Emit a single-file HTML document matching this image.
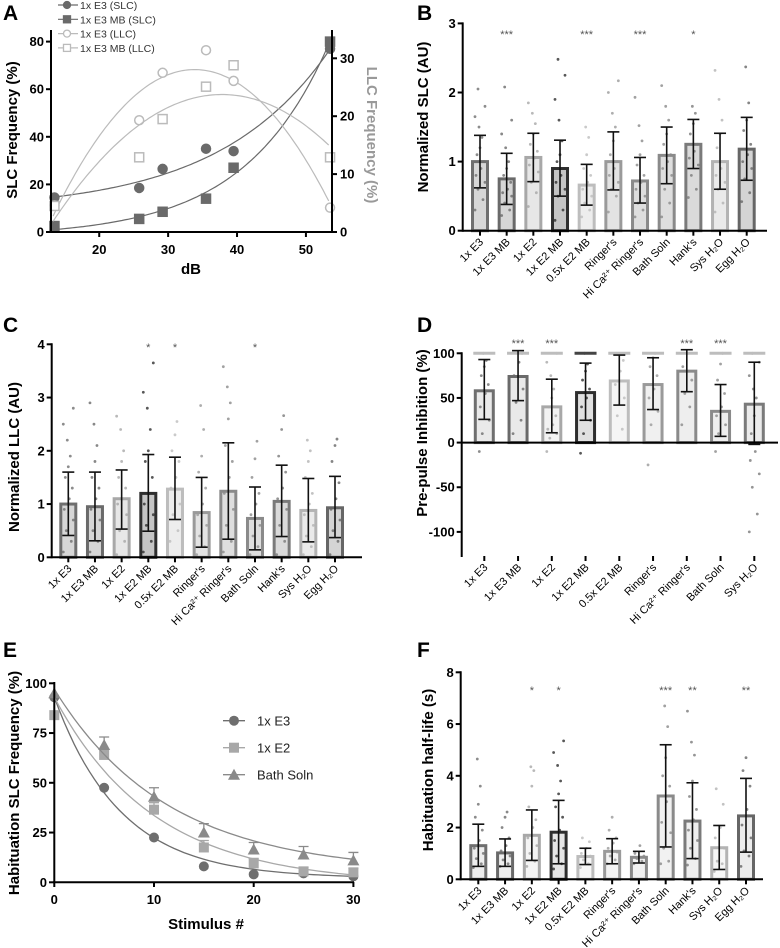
<!DOCTYPE html>
<html><head><meta charset="utf-8"><style>
html,body{margin:0;padding:0;background:#fff;}
svg{display:block;font-family:"Liberation Sans",Arial,sans-serif;}
</style></head><body>
<svg id="fig" width="780" height="948" viewBox="0 0 780 948" xmlns="http://www.w3.org/2000/svg"></svg>
<script>
// ---------- Panel A data ----------
const aDb = [13.5, 25.8, 29.2, 35.5, 39.5, 53.5];
const aSlcE3 = [14.5, 18.5, 26.5, 35, 34, 77];
const aSlcE3MB = [2.5, 5.5, 8.5, 14, 27, 80];
const aLlcE3 = [4.6, 19.3, 27.5, 31.4, 26.1, 4.2];
const aLlcE3MB = [4.5, 12.9, 19.5, 25.1, 28.8, 12.9];
const aLeftTicks = [0, 20, 40, 60, 80];
const aRightTicks = [0, 10, 20, 30];
const aXTicks = [20, 30, 40, 50];
const aLegend = ["1x E3 (SLC)", "1x E3 MB (SLC)", "1x E3 (LLC)", "1x E3 MB (LLC)"];

// ---------- Categories ----------
const cats11 = ["1x E3","1x E3 MB","1x E2","1x E2 MB","0.5x E2 MB","Ringer's","Hi Ca²⁺ Ringer's","Bath Soln","Hank's","Sys H₂O","Egg H₂O"];
const cats9 = ["1x E3","1x E3 MB","1x E2","1x E2 MB","0.5x E2 MB","Ringer's","Hi Ca²⁺ Ringer's","Bath Soln","Sys H₂O"];

// ---------- Panel B ----------
const bMeans = [1.0, 0.75, 1.06, 0.9, 0.66, 1.0, 0.72, 1.09, 1.25, 1.0, 1.18];
const bErrHi = [1.38, 1.12, 1.41, 1.31, 0.96, 1.43, 1.06, 1.5, 1.61, 1.41, 1.64];
const bErrLo = [0.62, 0.38, 0.71, 0.5, 0.37, 0.59, 0.4, 0.68, 0.9, 0.6, 0.73];
const bStars = ["", "***", "", "", "***", "", "***", "", "*", "", ""];
const bTicks = [0, 1, 2, 3];
const bDots = [
 [0.3,0.45,0.6,0.7,0.8,0.9,1.0,1.1,1.2,1.35,1.5,1.65,1.8,2.05],
 [0.22,0.3,0.4,0.5,0.55,0.6,0.7,0.8,0.9,1.0,1.2,1.4,1.6,2.08],
 [0.35,0.55,0.7,0.85,0.95,1.05,1.15,1.25,1.4,1.55,1.7,1.85],
 [0.15,0.3,0.5,0.6,0.7,0.8,0.9,1.0,1.1,1.3,1.6,1.9,2.25,2.48],
 [0.2,0.3,0.4,0.5,0.6,0.7,0.8,0.9,1.1,1.35,1.5],
 [0.27,0.5,0.6,0.7,0.8,0.9,1.0,1.1,1.3,1.5,1.7,2.0,2.17],
 [0.2,0.3,0.4,0.5,0.6,0.7,0.8,0.95,1.1,1.3,1.52,1.93],
 [0.2,0.4,0.6,0.8,0.9,1.0,1.1,1.25,1.4,1.6,1.8,2.1],
 [0.48,0.6,0.8,0.95,1.05,1.15,1.25,1.4,1.55,1.7,1.8],
 [0.27,0.4,0.6,0.7,0.8,0.9,1.0,1.2,1.4,1.6,1.9,2.32],
 [0.42,0.55,0.75,0.9,1.0,1.1,1.25,1.45,1.6,1.85,2.37]];

// ---------- Panel C ----------
const cMeans = [1.0, 0.95, 1.1, 1.2, 1.28, 0.84, 1.24, 0.73, 1.05, 0.88, 0.93];
const cErrHi = [1.6, 1.6, 1.64, 1.93, 1.88, 1.5, 2.15, 1.32, 1.73, 1.48, 1.52];
const cErrLo = [0.41, 0.31, 0.53, 0.49, 0.71, 0.19, 0.34, 0.14, 0.39, 0.29, 0.37];
const cStars = ["", "", "", "*", "*", "", "", "*", "", "", ""];
const cTicks = [0, 1, 2, 3, 4];
const cDots = [
 [0.1,0.3,0.5,0.7,0.9,1.1,1.3,1.5,1.7,1.9,2.2,2.5,2.8],
 [0.1,0.3,0.5,0.7,0.9,1.1,1.3,1.5,1.8,2.1,2.5,2.9],
 [0.05,0.3,0.5,0.8,1.0,1.1,1.3,1.5,1.8,2.0,2.4,2.65],
 [0.1,0.3,0.6,0.8,1.0,1.2,1.5,1.8,2.0,2.4,2.8,3.1,3.65],
 [0.3,0.5,0.8,1.0,1.3,1.5,1.8,2.0,2.3,2.55],
 [0.05,0.2,0.4,0.6,0.8,1.0,1.3,1.6,1.9,2.4,2.85],
 [0.1,0.3,0.6,0.9,1.2,1.5,1.8,2.1,2.6,2.9,3.2,3.58],
 [0.05,0.2,0.4,0.6,0.8,1.0,1.2,1.5,1.85,2.18],
 [0.05,0.3,0.6,0.9,1.1,1.3,1.6,1.9,2.4,2.66],
 [0.05,0.2,0.4,0.6,0.8,1.0,1.2,1.5,1.8,2.0,2.2],
 [0.05,0.3,0.5,0.7,0.9,1.1,1.4,1.8,2.1,2.22]];

// ---------- Panel D ----------
const dMeans = [58, 74, 40, 56, 69, 65, 80, 35, 43];
const dErrHi = [93, 103, 71, 89, 98, 95, 104, 65, 90];
const dErrLo = [26, 47, 11, 25, 42, 37, 57, 7, -2];
const dStars = ["", "***", "***", "", "", "", "***", "***", ""];
const dTicks = [-100, -50, 0, 50, 100];
const dDots = [
 [-10,0,10,25,40,55,65,75,85,92,100],
 [10,25,45,60,75,90,100],
 [-10,0,5,10,15,20,30,40,50,60,75,90,100],
 [-12,0,10,25,40,50,60,70,80,88,100],
 [0,15,30,50,65,80,92,100],
 [-25,0,20,35,50,60,75,85,95,100],
 [20,40,55,70,85,100],
 [-10,0,10,20,30,40,55,70,88,100],
 [-100,-80,-50,-35,-20,-10,0,10,30,50,60,75,90,100]];

// ---------- Panel E ----------
const eStim = [0, 5, 10, 15, 20, 25, 30];
const eE3 = [93, 47.5, 22.5, 8, 4, 4.5, 3];
const eE2 = [84, 64, 36.5, 17.5, 9.5, 5.5, 5];
const eBath = [95, 69, 43, 25, 16.5, 14, 11];
const eE2Err = [0, 3, 3.5, 3.5, 2.5, 2, 2];
const eBathErr = [0, 4, 4.5, 4.5, 3.5, 4, 4];
const eFitY0 = [93, 93, 97];
const eFitK = [0.15, 0.1, 0.088];
const eFitPlateau = [2, -1, 5];
const eYTicks = [0, 25, 50, 75, 100];
const eXTicks = [0, 10, 20, 30];
const eLegend = ["1x E3", "1x E2", "Bath Soln"];

// ---------- Panel F ----------
const fMeans = [1.3, 1.02, 1.7, 1.82, 0.88, 1.08, 0.85, 3.22, 2.25, 1.22, 2.45];
const fErrHi = [2.13, 1.56, 2.68, 3.05, 1.2, 1.57, 1.08, 5.2, 3.73, 2.08, 3.9];
const fErrLo = [0.5, 0.5, 0.73, 0.6, 0.57, 0.6, 0.63, 1.25, 0.8, 0.38, 1.05];
const fStars = ["", "", "*", "*", "", "", "", "***", "**", "", "**"];
const fTicks = [0, 2, 4, 6, 8];
const fDots = [
 [0.45,0.6,0.8,1.0,1.2,1.5,1.9,2.4,2.9,3.6,4.65],
 [0.5,0.6,0.75,0.9,1.1,1.3,1.6,2.0,2.4,2.6],
 [0.5,0.7,1.0,1.3,1.6,2.0,2.3,2.8,3.6,4.2,4.35],
 [0.4,0.6,0.9,1.2,1.5,1.9,2.4,2.8,3.3,3.8,4.4,4.9,5.35],
 [0.45,0.6,0.75,0.9,1.0,1.2,1.45,1.6],
 [0.6,0.75,0.9,1.05,1.2,1.4,1.6,1.9,2.4],
 [0.6,0.7,0.8,0.9,1.0,1.3],
 [0.6,0.7,1.2,1.8,2.2,3.0,3.6,4.0,4.7,5.9,6.7],
 [0.55,0.8,1.2,1.5,1.9,2.3,2.7,3.2,3.8,4.8,5.3,6.5],
 [0.3,0.6,0.7,1.2,1.6,2.0,2.9,3.5],
 [0.5,0.9,1.1,1.6,2.1,2.7,3.6,4.2,4.7]];

// ---------- styles ----------
const barColors = ['#6f6f6f','#6a6a6a','#a8a8a8','#2e2e2e','#bdbdbd','#9a9a9a','#8a8a8a','#8a8a8a','#7a7a7a','#b3b3b3','#666666'];
const jitter = [-5,3,-2,5,-4,1,4,-3,0,2,-1,-5,5,-2];

const NS = 'http://www.w3.org/2000/svg';
const svg = document.getElementById('fig');
function el(tag, attrs, parent, text) {
  const e = document.createElementNS(NS, tag);
  for (const k in attrs) e.setAttribute(k, attrs[k]);
  if (text !== undefined) e.textContent = text;
  (parent || svg).appendChild(e);
  return e;
}
function group(name) {
  const g = el('g', {});
  
  
  return g;
}
function label(g, x, y, txt, name, opts) {
  const t = el('text', Object.assign({x: x, y: y, 'font-size': 12, 'font-weight': 'bold', fill: '#000'}, opts || {}), g, txt);
  
  
  return t;
}
function panelLetter(x, y, ch) {
  const t = el('text', {x: x, y: y, 'font-size': 21, 'font-weight': 'bold', fill: '#000'}, svg, ch);
  
  
}

// ---------- generic bar panel ----------
function barPanel(cfg) {
  const g = group(cfg.name);
  const y = v => cfg.y0 - (v - cfg.vmin) * cfg.pxPerUnit;
  const zeroY = y(0);
  const x = i => cfg.x0 + i * cfg.step;
  // bar fill (density texture)
  cfg.means.forEach((m, i) => {
    const top = Math.min(y(m), zeroY), h = Math.abs(zeroY - y(m));
    const r = el('rect', {x: x(i) - cfg.bw / 2, y: top, width: cfg.bw, height: h, fill: barColors[i], opacity: cfg.fillOp}, g);
    
    
  });
  // dots
  cfg.dots.forEach((arr, i) => {
    arr.forEach((v, j) => {
      const c = el('circle', {cx: x(i) + jitter[j % jitter.length], cy: y(v), r: 1.4, fill: barColors[i], opacity: 0.8}, g);
      
      
    });
  });
  // bars
  cfg.means.forEach((m, i) => {
    const top = Math.min(y(m), zeroY), h = Math.abs(zeroY - y(m));
    const r = el('rect', {x: x(i) - cfg.bw / 2, y: top, width: cfg.bw, height: h, fill: 'none', stroke: barColors[i], 'stroke-width': 3}, g);
    
    
  });
  if (cfg.hundredLine) {
    cfg.means.forEach((m, i) => {
      const l = el('line', {x1: x(i) - 11, x2: x(i) + 11, y1: y(100), y2: y(100), stroke: i === 3 ? '#444' : '#bdbdbd', 'stroke-width': 3}, g);
      
      
    });
  }
  // error bars
  cfg.means.forEach((m, i) => {
    const eg = el('g', {stroke: '#111', 'stroke-width': 1.6}, g);
    
    
    el('line', {x1: x(i), x2: x(i), y1: y(cfg.hi[i]), y2: y(cfg.lo[i])}, eg);
    el('line', {x1: x(i) - 6, x2: x(i) + 6, y1: y(cfg.hi[i]), y2: y(cfg.hi[i])}, eg);
    el('line', {x1: x(i) - 6, x2: x(i) + 6, y1: y(cfg.lo[i]), y2: y(cfg.lo[i])}, eg);
  });
  // stars
  cfg.stars.forEach((s, i) => {
    if (s) label(g, x(i), cfg.starY, s, 'significance-marker', {'text-anchor': 'middle', 'font-size': 11, 'font-weight': 'normal', fill: '#555'});
  });
  // axes
  const ax = el('g', {stroke: '#000', 'stroke-width': 2}, g);
  
  
  const yTopV = cfg.ticks[cfg.ticks.length - 1];
  el('line', {x1: cfg.axX, x2: cfg.axX, y1: y(yTopV) - 1, y2: cfg.y0 + 1}, ax);
  el('line', {x1: cfg.axX, x2: cfg.xEnd, y1: zeroY, y2: zeroY}, ax);
  if (cfg.bottomAxis) el('line', {x1: cfg.axX, x2: cfg.xEnd, y1: cfg.y0, y2: cfg.y0}, ax);
  cfg.ticks.forEach(t => {
    el('line', {x1: cfg.axX - 5, x2: cfg.axX, y1: y(t), y2: y(t)}, ax);
    label(g, cfg.axX - 7, y(t) + 4.5, String(t), 'y-tick-label', {'text-anchor': 'end', 'font-size': 13});
  });
  const baseY = cfg.y0;
  cfg.cats.forEach((c, i) => {
    el('line', {x1: x(i), x2: x(i), y1: baseY, y2: baseY + 5}, ax);
    label(g, 0, 0, c, 'x-tick-label', {'text-anchor': 'end', 'font-size': 11, 'font-weight': 'normal',
      transform: 'translate(' + (x(i) + 4) + ',' + (baseY + 12) + ') rotate(-45)'});
  });
  label(g, 0, 0, cfg.ylabel, 'y-axis-title', {'text-anchor': 'middle', 'font-size': 15,
    transform: 'translate(' + cfg.ylX + ',' + cfg.ylY + ') rotate(-90)'});
}

// ---------- Panel A ----------
function polyfit(xs, ys, deg) {
  const n = deg + 1, A = [], b = [];
  for (let r = 0; r < n; r++) { A.push(new Array(n).fill(0)); b.push(0); }
  xs.forEach((xv, k) => {
    for (let r = 0; r < n; r++) {
      for (let c = 0; c < n; c++) A[r][c] += Math.pow(xv, r + c);
      b[r] += ys[k] * Math.pow(xv, r);
    }
  });
  for (let i = 0; i < n; i++) {
    let p = i; for (let r = i + 1; r < n; r++) if (Math.abs(A[r][i]) > Math.abs(A[p][i])) p = r;
    [A[i], A[p]] = [A[p], A[i]]; [b[i], b[p]] = [b[p], b[i]];
    for (let r = i + 1; r < n; r++) { const f = A[r][i] / A[i][i]; for (let c = i; c < n; c++) A[r][c] -= f * A[i][c]; b[r] -= f * b[i]; }
  }
  const co = new Array(n).fill(0);
  for (let i = n - 1; i >= 0; i--) { let s = b[i]; for (let c = i + 1; c < n; c++) s -= A[i][c] * co[c]; co[i] = s / A[i][i]; }
  return v => co.reduce((s, c, i) => s + c * Math.pow(v, i), 0);
}
// exponential growth fit y = a + b*exp(k x), grid search on k
function expfit(xs, ys) {
  let best = null;
  for (let k = 0.01; k <= 0.4; k += 0.002) {
    const e = xs.map(v => Math.exp(k * (v - 53.5)));
    const n = xs.length;
    const se = e.reduce((s, v) => s + v, 0), sy = ys.reduce((s, v) => s + v, 0);
    const see = e.reduce((s, v) => s + v * v, 0), sey = e.reduce((s, v, i) => s + v * ys[i], 0);
    const det = n * see - se * se;
    const bb = (n * sey - se * sy) / det, aa = (sy - bb * se) / n;
    const err = ys.reduce((s, v, i) => s + Math.pow(v - aa - bb * e[i], 2), 0);
    if (!best || err < best.err) best = {err: err, a: aa, b: bb, k: k};
  }
  return v => best.a + best.b * Math.exp(best.k * (v - 53.5));
}
(function () {
  const g = group('panel-a-dose-response');
  const X = v => 51 + (v - 13) * 6.89;
  const YL = v => 232 - v * 2.38;
  const YR = v => 232 - v * 5.79;
  const series = [
    {d: aSlcE3, s: YL, col: '#6a6a6a', m: 'circle', fill: true, exp: true},
    {d: aSlcE3MB, s: YL, col: '#6a6a6a', m: 'square', fill: true, exp: true},
    {d: aLlcE3, s: YR, col: '#bbbbbb', m: 'circle', fill: false, deg: 2},
    {d: aLlcE3MB, s: YR, col: '#bbbbbb', m: 'square', fill: false, deg: 2}];
  series.forEach((se, si) => {
    const f = se.exp ? expfit(aDb, se.d) : polyfit(aDb, se.d, se.deg);
    let p = '';
    for (let v = 13.3; v <= 53.6; v += 0.4) p += (p ? 'L' : 'M') + X(v).toFixed(1) + ',' + se.s(Math.max(0, f(v))).toFixed(1);
    const path = el('path', {d: p, fill: 'none', stroke: se.col, 'stroke-width': 1.2}, g);
    
    
    se.d.forEach((v, i) => {
      const cx = X(aDb[i]), cy = se.s(v);
      let mk;
      if (se.m === 'circle') mk = el('circle', {cx: cx, cy: cy, r: 4.5, fill: se.fill ? se.col : '#fff', stroke: se.col, 'stroke-width': 1.5}, g);
      else mk = el('rect', {x: cx - 4.5, y: cy - 4.5, width: 9, height: 9, fill: se.fill ? se.col : '#fff', stroke: se.col, 'stroke-width': 1.5}, g);
      
      
    });
  });
  aLegend.forEach((txt, i) => {
    const se = series[i], ly = 5 + i * 14.3;
    const lg = el('g', {}, g);
    
    
    el('line', {x1: 58, x2: 78, y1: ly, y2: ly, stroke: se.col, 'stroke-width': 1.2}, lg);
    if (se.m === 'circle') el('circle', {cx: 67, cy: ly, r: 3.5, fill: se.fill ? se.col : '#fff', stroke: se.col, 'stroke-width': 1.3}, lg);
    else el('rect', {x: 63.5, y: ly - 3.5, width: 7, height: 7, fill: se.fill ? se.col : '#fff', stroke: se.col, 'stroke-width': 1.3}, lg);
    el('text', {x: 80, y: ly + 4, 'font-size': 10.5, fill: '#333'}, lg, txt);
  });
  const ax = el('g', {stroke: '#000', 'stroke-width': 2}, g);
  
  
  el('line', {x1: 51, x2: 51, y1: 30, y2: 233}, ax);
  el('line', {x1: 332, x2: 332, y1: 30, y2: 233}, ax);
  el('line', {x1: 50, x2: 333, y1: 232, y2: 232}, ax);
  aLeftTicks.forEach(t => { el('line', {x1: 46, x2: 51, y1: YL(t), y2: YL(t)}, ax); label(g, 44, YL(t) + 4.5, String(t), 'y-tick-label', {'text-anchor': 'end', 'font-size': 13}); });
  aRightTicks.forEach(t => { el('line', {x1: 332, x2: 337, y1: YR(t), y2: YR(t)}, ax); label(g, 340, YR(t) + 4.5, String(t), 'right-y-tick-label', {'font-size': 13}); });
  aXTicks.forEach(t => { el('line', {x1: X(t), x2: X(t), y1: 232, y2: 237}, ax); label(g, X(t), 254, String(t), 'x-tick-label', {'text-anchor': 'middle', 'font-size': 13}); });
  label(g, 191, 274, 'dB', 'x-axis-title', {'text-anchor': 'middle', 'font-size': 15});
  label(g, 0, 0, 'SLC Frequency (%)', 'y-axis-title', {'text-anchor': 'middle', 'font-size': 15, transform: 'translate(17,130) rotate(-90)'});
  label(g, 0, 0, 'LLC Frequency (%)', 'right-y-axis-title', {'text-anchor': 'middle', 'font-size': 15, fill: '#999', transform: 'translate(367,135) rotate(90)'});
})();
panelLetter(3, 20, 'A');

barPanel({name: 'panel-b-normalized-slc', cats: cats11, means: bMeans, hi: bErrHi, lo: bErrLo, stars: bStars, dots: bDots, ticks: bTicks,
  vmin: 0, y0: 230.7, pxPerUnit: 69.1, x0: 480, step: 26.67, bw: 15, axX: 462.7, xEnd: 767, starY: 38, fillOp: 0.28,
  ylabel: 'Normalized SLC (AU)', ylX: 428, ylY: 117});
panelLetter(417, 20, 'B');

barPanel({name: 'panel-c-normalized-llc', cats: cats11, means: cMeans, hi: cErrHi, lo: cErrLo, stars: cStars, dots: cDots, ticks: cTicks,
  vmin: 0, y0: 557.3, pxPerUnit: 53.25, x0: 68.3, step: 26.67, bw: 15, axX: 51.7, xEnd: 362, starY: 351, fillOp: 0.28,
  ylabel: 'Normalized LLC (AU)', ylX: 19, ylY: 457});
panelLetter(3, 332, 'C');

barPanel({name: 'panel-d-prepulse-inhibition', cats: cats9, means: dMeans, hi: dErrHi, lo: dErrLo, stars: dStars, dots: dDots, ticks: dTicks,
  vmin: -127, y0: 556, pxPerUnit: 0.893, x0: 484.3, step: 33.75, bw: 18, axX: 461.7, xEnd: 778, starY: 347, hundredLine: true, fillOp: 0.15,
  ylabel: 'Pre-pulse Inhibition (%)', ylX: 427, ylY: 433});
panelLetter(417, 332, 'D');

// ---------- Panel E ----------
(function () {
  const g = group('panel-e-habituation');
  const X = v => 54.3 + v * 9.97;
  const Y = v => 882.3 - v * 1.99;
  const cols = ['#6e6e6e', '#a8a8a8', '#8a8a8a'];
  const sets = [eE3, eE2, eBath];
  const errs = [null, eE2Err, eBathErr];
  sets.forEach((d, si) => {
    let p = '';
    for (let v = 0; v <= 30.01; v += 0.5) {
      const yv = eFitPlateau[si] + (eFitY0[si] - eFitPlateau[si]) * Math.exp(-eFitK[si] * v);
      p += (p ? 'L' : 'M') + X(v).toFixed(1) + ',' + Y(yv).toFixed(1);
    }
    const path = el('path', {d: p, fill: 'none', stroke: cols[si], 'stroke-width': 1.3}, g);
    
    
    d.forEach((v, i) => {
      const cx = X(eStim[i]), cy = Y(v);
      if (errs[si] && errs[si][i]) {
        const e = errs[si][i];
        const eb = el('path', {d: 'M' + cx + ',' + cy + 'V' + Y(v + e) + 'M' + (cx - 5) + ',' + Y(v + e) + 'H' + (cx + 5), stroke: cols[si], 'stroke-width': 1.3, fill: 'none'}, g);
        
        
      }
      let mk;
      if (si === 0) mk = el('circle', {cx: cx, cy: cy, r: 5, fill: cols[si]}, g);
      else if (si === 1) mk = el('rect', {x: cx - 5, y: cy - 5, width: 10, height: 10, fill: cols[si]}, g);
      else mk = el('polygon', {points: cx + ',' + (cy - 6) + ' ' + (cx - 6) + ',' + (cy + 5) + ' ' + (cx + 6) + ',' + (cy + 5), fill: cols[si]}, g);
      
      
    });
  });
  eLegend.forEach((txt, i) => {
    const ly = 720.7 + i * 27;
    const lg = el('g', {}, g);
    
    
    el('line', {x1: 223, x2: 245, y1: ly, y2: ly, stroke: cols[i], 'stroke-width': 1.3}, lg);
    if (i === 0) el('circle', {cx: 234, cy: ly, r: 5, fill: cols[i]}, lg);
    else if (i === 1) el('rect', {x: 229, y: ly - 5, width: 10, height: 10, fill: cols[i]}, lg);
    else el('polygon', {points: '234,' + (ly - 6) + ' 228,' + (ly + 5) + ' 240,' + (ly + 5), fill: cols[i]}, lg);
    el('text', {x: 257, y: ly + 5, 'font-size': 13, fill: '#222'}, lg, txt);
  });
  const ax = el('g', {stroke: '#000', 'stroke-width': 2}, g);
  
  
  el('line', {x1: 54.3, x2: 54.3, y1: 682, y2: 883}, ax);
  el('line', {x1: 53, x2: 354, y1: 882.3, y2: 882.3}, ax);
  eYTicks.forEach(t => { el('line', {x1: 49, x2: 54, y1: Y(t), y2: Y(t)}, ax); label(g, 47, Y(t) + 4.5, String(t), 'y-tick-label', {'text-anchor': 'end', 'font-size': 13}); });
  eXTicks.forEach(t => { el('line', {x1: X(t), x2: X(t), y1: 882, y2: 887}, ax); label(g, X(t), 904, String(t), 'x-tick-label', {'text-anchor': 'middle', 'font-size': 13}); });
  label(g, 206, 929, 'Stimulus #', 'x-axis-title', {'text-anchor': 'middle', 'font-size': 15});
  label(g, 0, 0, 'Habituation SLC Frequency (%)', 'y-axis-title', {'text-anchor': 'middle', 'font-size': 15, transform: 'translate(19,783) rotate(-90)'});
})();
panelLetter(3, 657, 'E');

barPanel({name: 'panel-f-habituation-half-life', cats: cats11, means: fMeans, hi: fErrHi, lo: fErrLo, stars: fStars, dots: fDots, ticks: fTicks,
  vmin: 0, y0: 879.3, pxPerUnit: 25.875, x0: 478.3, step: 26.77, bw: 15, axX: 460.7, xEnd: 763, starY: 694, fillOp: 0.12,
  ylabel: 'Habituation half-life (s)', ylX: 433, ylY: 770});
panelLetter(417, 657, 'F');
</script>
</body></html>
